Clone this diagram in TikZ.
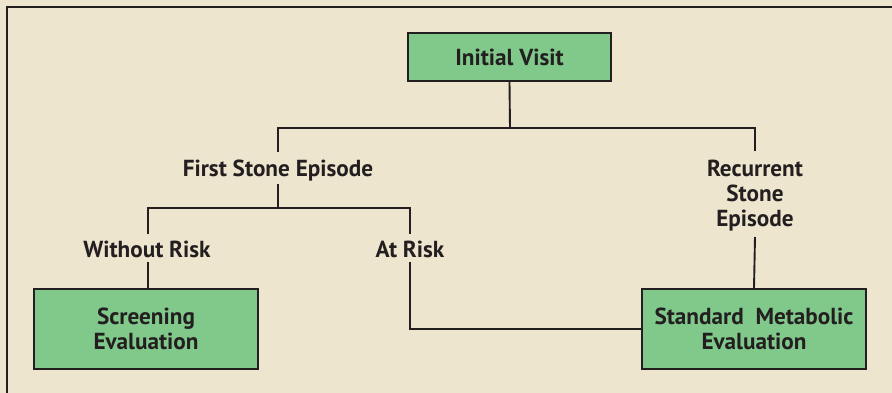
\documentclass[tikz,border=0pt]{standalone}
\usepackage{fontspec}
\setmainfont{PT Sans}
\definecolor{bg}{HTML}{EEE5CE}
\definecolor{boxg}{HTML}{80C98A}
\definecolor{ink}{HTML}{231F20}
\begin{document}
\begin{tikzpicture}[x=1pt,y=-1pt,
  txt/.style={text=ink,font=\fontsize{23.2}{25}\selectfont\bfseries,align=center},
  box/.style={txt,draw=ink,line width=1.9pt,fill=boxg,inner sep=0pt},
  lab/.style={txt,inner sep=0pt,anchor=base},
  conn/.style={draw=ink,line width=1.9pt}]
\fill[bg] (0,0) rectangle (892,393);
\useasboundingbox (0,0) rectangle (892,393);
\draw[ink,line width=2.6pt] (7,393) -- (7,7) -- (892,7);
\node[box,minimum width=203pt,minimum height=48pt] (iv) at (509.5,57) {Initial Visit};
\node[box,minimum width=224pt,minimum height=80pt] (se) at (146,329) {Screening\\Evaluation};
\node[box,minimum width=224pt,minimum height=80pt] (sm) at (754,329) {Standard\ \ Metabolic\\Evaluation};
\node[lab] (fs) at (278,176) {First Stone Episode};
\node[lab] (rs) at (755,226) {Recurrent\\Stone\\Episode};
\node[lab] (wr) at (147,257) {Without Risk};
\node[lab] (ar) at (410,257) {At Risk};
% connector junctions and label ends
\coordinate (j1) at (510,128);
\coordinate (j2) at (278,208);
\coordinate (fsT) at (278,152);
\coordinate (fsB) at (278,184);
\coordinate (rsT) at (755,151);
\coordinate (rsB) at (755,237);
\coordinate (wrT) at (148,234);
\coordinate (wrB) at (148,262);
\coordinate (arT) at (410,234);
\coordinate (arB) at (410,262);
\draw[conn] (iv.south) -- (j1);
\draw[conn] (fsT) |- (j1) -| (rsT);
\draw[conn] (fsB) -- (j2);
\draw[conn] (wrT) |- (j2) -| (arT);
\draw[conn] (wrB) -- (wrB |- se.north);
\draw[conn] (arB) |- (sm.west);
\draw[conn] (rsB) -- (sm.north);
\end{tikzpicture}
\end{document}
